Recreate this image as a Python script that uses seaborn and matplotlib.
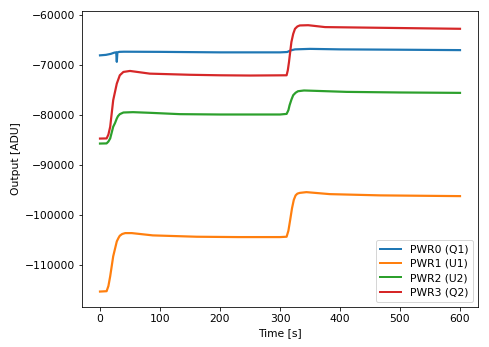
import matplotlib
matplotlib.use("Agg")
import matplotlib.pyplot as plt
import seaborn as sns
import pandas as pd

labels = ["PWR0 (Q1)", "PWR1 (U1)", "PWR2 (U2)", "PWR3 (Q2)"]

t_pwr0 = [0, 10, 18, 24, 27, 28, 29, 32, 40, 100, 200, 300, 312, 318, 325, 350, 400, 500, 600]
v_pwr0 = [-68000, -67900, -67700, -67450, -67400, -69300, -67400, -67300, -67270, -67300, -67400,
          -67400, -67330, -67000, -66800, -66700, -66800, -66870, -66950]

t_pwr1 = [0, 11, 14, 17, 22, 28, 31, 33, 37, 42, 53, 88, 161, 230, 300, 311, 314, 317, 320, 323, 326, 329, 333, 344, 383, 467, 600]
v_pwr1 = [-115400, -115330, -114300, -112330, -108330, -105330, -104600, -104200, -103850, -103670, -103670,
          -104130, -104400, -104470, -104470, -104400, -103200, -101000, -98700, -97000, -96100, -95750,
          -95600, -95450, -95850, -96100, -96250]

t_pwr2 = [0, 11, 14, 17, 22, 25, 28, 30, 33, 39, 55, 83, 133, 200, 300, 311, 314, 316, 319, 322, 326, 330, 340, 411, 500, 600]
v_pwr2 = [-85700, -85670, -85300, -84670, -82330, -81600, -80670, -80200, -79800, -79470, -79400, -79530,
          -79800, -79870, -79870, -79750, -79000, -78000, -76900, -76000, -75500, -75200, -75050, -75330,
          -75450, -75530]

t_pwr3 = [0, 11, 14, 17, 22, 28, 33, 39, 50, 83, 150, 200, 250, 311, 313, 315, 317, 319, 322, 325, 329, 333, 347, 375, 467, 600]
v_pwr3 = [-84700, -84670, -83900, -82330, -77000, -73670, -72000, -71330, -71130, -71670, -71900, -72000,
          -72050, -72000, -71000, -69330, -67300, -65330, -63700, -62670, -62200, -62000, -61950, -62330,
          -62470, -62670]

series = [(t_pwr0, v_pwr0), (t_pwr1, v_pwr1), (t_pwr2, v_pwr2), (t_pwr3, v_pwr3)]

plt.rcParams["font.size"] = 10.7

fig = plt.figure(figsize=(489 / 72, 347 / 72), dpi=72)
ax = fig.add_axes([82 / 489, 1 - 307 / 347, (478 - 82) / 489, (307 - 11) / 347])

colors = sns.color_palette("tab10", 4)
for (t, v), lab, c in zip(series, labels, colors):
    df = pd.DataFrame({"Time": t, "Output": v})
    sns.lineplot(data=df, x="Time", y="Output", ax=ax, color=c, label=lab,
                 estimator=None, sort=False, linewidth=2.2)

ax.set_xlim(-30, 630)
ax.set_ylim(-118500, -59100)
ax.set_xticks([0, 100, 200, 300, 400, 500, 600])
ax.set_yticks([-110000, -100000, -90000, -80000, -70000, -60000])
ax.set_xlabel("Time [s]")
ax.set_ylabel("Output [ADU]")
leg = ax.legend(loc="lower right", labelspacing=0.4)
for h in leg.legend_handles:
    h.set_linewidth(2.0)

fig.savefig("out.png", dpi=72)
